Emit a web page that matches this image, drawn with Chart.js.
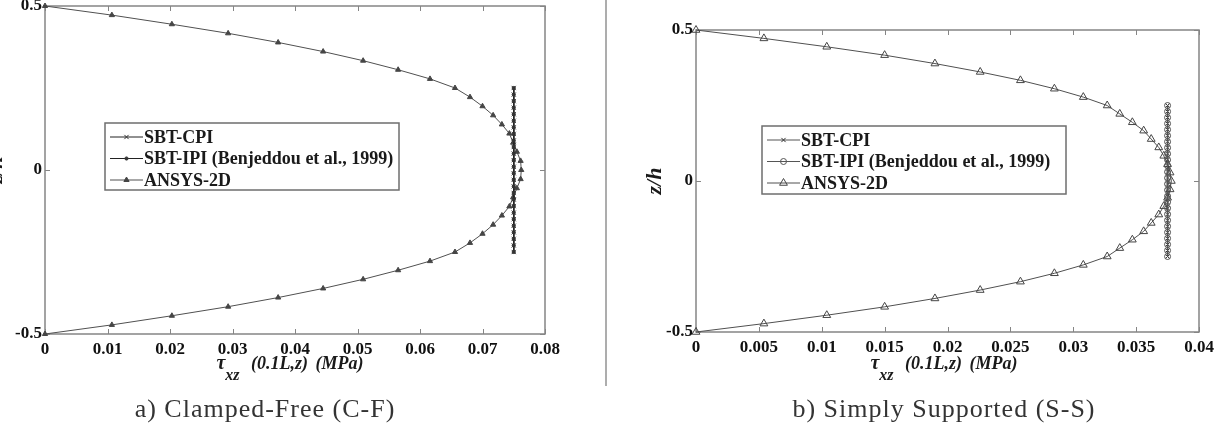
<!DOCTYPE html>
<html>
<head>
<meta charset="utf-8">
<script src="https://cdn.jsdelivr.net/npm/chart.js@4.4.1/dist/chart.umd.min.js"></script>
<style>
  body { margin: 0; width: 1218px; height: 426px; overflow: hidden; background: #fff; position: relative; font-family: "Liberation Serif", serif; }
  .wrap { position: absolute; top: 0; height: 390px; }
  #wrapA { left: -20px; width: 626px; }
  #wrapB { left: 606px; width: 612px; }
  .divider { position: absolute; left: 605px; top: 0; width: 2px; height: 386px; background: #adadad; }
  .xtitle { position: absolute; top: 351px; font-family: "Liberation Serif", serif; font-style: italic; font-weight: bold; font-size: 18px; word-spacing: 3px; transform: translateX(-50%); white-space: nowrap; color: #1a1a1a; }
  .xtitle .tau { font-size: 20px; }
  .xtitle sub { font-size: 16px; vertical-align: -11px; margin-right: 4px; }
  .caption { position: absolute; top: 394px; font-family: "Liberation Serif", serif; font-size: 26px; letter-spacing: 1px; transform: translateX(-50%); white-space: nowrap; color: #333; }
</style>
</head>
<body>
<div class="wrap" id="wrapA"><canvas id="chartA"></canvas></div>
<div class="divider"></div>
<div class="wrap" id="wrapB"><canvas id="chartB"></canvas></div>
<div class="xtitle" style="left:290px"><span class="tau">τ</span><sub>xz</sub> (0.1L,z) (MPa)</div>
<div class="xtitle" style="left:944px"><span class="tau">τ</span><sub>xz</sub> (0.1L,z) (MPa)</div>
<div class="caption" style="left:265px">a) Clamped-Free (C-F)</div>
<div class="caption" style="left:944px">b) Simply Supported (S-S)</div>

<script>
'use strict';

// DATA
// z/h positions of the ANSYS-2D points (through the whole thickness)
const zFull = [0.5, 0.4722, 0.4444, 0.4167, 0.3889, 0.3611, 0.3333, 0.3056, 0.2778, 0.25,
  0.2222, 0.1944, 0.1667, 0.1389, 0.1111, 0.0833, 0.0556, 0.0278, 0,
  -0.0278, -0.0556, -0.0833, -0.1111, -0.1389, -0.1667, -0.1944, -0.2222, -0.25,
  -0.2778, -0.3056, -0.3333, -0.3611, -0.3889, -0.4167, -0.4444, -0.4722, -0.5];

// z/h positions of the SBT points (core only)
const zCore = [0.25, 0.23, 0.21, 0.19, 0.17, 0.15, 0.13, 0.11, 0.09, 0.07, 0.05, 0.03, 0.01,
  -0.01, -0.03, -0.05, -0.07, -0.09, -0.11, -0.13, -0.15, -0.17, -0.19, -0.21, -0.23, -0.25];

// a) Clamped-Free
const ansysCF = [0, 0.0107, 0.0203, 0.0293, 0.0373, 0.0445, 0.0509, 0.0565, 0.0616, 0.0656,
  0.0680, 0.0700, 0.0717, 0.0731, 0.0743, 0.0749, 0.0755, 0.0761, 0.0762,
  0.0761, 0.0755, 0.0749, 0.0743, 0.0731, 0.0717, 0.0700, 0.0680, 0.0656,
  0.0616, 0.0565, 0.0509, 0.0445, 0.0373, 0.0293, 0.0203, 0.0107, 0];
const cpiCF = [0.075, 0.075, 0.075, 0.075, 0.075, 0.075, 0.075, 0.075, 0.075, 0.075, 0.075, 0.075, 0.075,
  0.075, 0.075, 0.075, 0.075, 0.075, 0.075, 0.075, 0.075, 0.075, 0.075, 0.075, 0.075, 0.075];
const ipiCF = [0.075, 0.075, 0.075, 0.075, 0.075, 0.075, 0.075, 0.075, 0.075, 0.075, 0.075, 0.075, 0.075,
  0.075, 0.075, 0.075, 0.075, 0.075, 0.075, 0.075, 0.075, 0.075, 0.075, 0.075, 0.075, 0.075];

// b) Simply Supported
const ansysSS = [0, 0.0054, 0.0104, 0.0150, 0.0190, 0.0226, 0.0258, 0.0285, 0.0308, 0.0327,
  0.0337, 0.0347, 0.0356, 0.0362, 0.0368, 0.0372, 0.0375, 0.0377, 0.0378,
  0.0377, 0.0375, 0.0372, 0.0368, 0.0362, 0.0356, 0.0347, 0.0337, 0.0327,
  0.0308, 0.0285, 0.0258, 0.0226, 0.0190, 0.0150, 0.0104, 0.0054, 0];
const cpiSS = [0.0375, 0.0375, 0.0375, 0.0375, 0.0375, 0.0375, 0.0375, 0.0375, 0.0375, 0.0375, 0.0375, 0.0375, 0.0375,
  0.0375, 0.0375, 0.0375, 0.0375, 0.0375, 0.0375, 0.0375, 0.0375, 0.0375, 0.0375, 0.0375, 0.0375, 0.0375];
const ipiSS = [0.0375, 0.0375, 0.0375, 0.0375, 0.0375, 0.0375, 0.0375, 0.0375, 0.0375, 0.0375, 0.0375, 0.0375, 0.0375,
  0.0375, 0.0375, 0.0375, 0.0375, 0.0375, 0.0375, 0.0375, 0.0375, 0.0375, 0.0375, 0.0375, 0.0375, 0.0375];

// tick labels
const xTicksCF = [0, 0.01, 0.02, 0.03, 0.04, 0.05, 0.06, 0.07, 0.08];
const xTicksSS = [0, 0.005, 0.01, 0.015, 0.02, 0.025, 0.03, 0.035, 0.04];
const zTicks = [-0.5, 0, 0.5];

const seriesNames = ['SBT-CPI', 'SBT-IPI (Benjeddou et al., 1999)', 'ANSYS-2D'];

// FUNCTIONS

function toPoints(xs, zs) {
  return xs.map((v, i) => ({ x: v, y: zs[i] }));
}

// box round the plot with the ticks pointing inwards (matlab style)
const frameTicks = {
  id: 'frameTicks',
  beforeDatasetsDraw(chart) {
    const { ctx, chartArea: a, scales } = chart;
    const len = 5;
    ctx.save();
    ctx.strokeStyle = '#858585';
    ctx.lineWidth = 1.5;
    ctx.strokeRect(a.left, a.top, a.right - a.left, a.bottom - a.top);
    ctx.lineWidth = 1;
    ctx.beginPath();
    scales.x.ticks.forEach(t => {
      const px = Math.round(scales.x.getPixelForValue(t.value)) + 0.5;
      ctx.moveTo(px, a.bottom); ctx.lineTo(px, a.bottom - len);
      ctx.moveTo(px, a.top); ctx.lineTo(px, a.top + len);
    });
    scales.y.ticks.forEach(t => {
      const py = Math.round(scales.y.getPixelForValue(t.value)) + 0.5;
      ctx.moveTo(a.left, py); ctx.lineTo(a.left + len, py);
      ctx.moveTo(a.right, py); ctx.lineTo(a.right - len, py);
    });
    ctx.stroke();
    ctx.restore();
  }
};

// legend in a box inside the plot
const boxLegend = {
  id: 'boxLegend',
  afterDraw(chart, args, opts) {
    const { ctx } = chart;
    ctx.save();
    ctx.fillStyle = '#fff';
    ctx.fillRect(opts.x, opts.y, opts.w, opts.h);
    ctx.strokeStyle = '#6e6e6e';
    ctx.lineWidth = 1.5;
    ctx.strokeRect(opts.x, opts.y, opts.w, opts.h);
    ctx.font = 'bold 18px "Liberation Serif"';
    ctx.textBaseline = 'middle';
    chart.data.datasets.forEach((ds, i) => {
      const cy = opts.y + 14 + i * 21.5;
      const x0 = opts.x + 5;
      const x1 = opts.x + 38;
      ctx.strokeStyle = ds.borderColor;
      ctx.lineWidth = 1;
      ctx.beginPath();
      ctx.moveTo(x0, cy); ctx.lineTo(x1, cy);
      ctx.stroke();
      ctx.fillStyle = ds.pointBackgroundColor;
      ctx.strokeStyle = ds.pointBorderColor;
      Chart.helpers.drawPoint(ctx, {
        pointStyle: ds.pointStyle, rotation: 0,
        radius: ds.pointRadius, borderWidth: 1
      }, (x0 + x1) / 2, cy);
      ctx.fillStyle = '#1a1a1a';
      ctx.fillText(ds.label, opts.x + 39, cy + 1);
    });
    ctx.restore();
  }
};

function makeChart(id, p) {
  const tickFont = { family: 'Liberation Serif', weight: 'bold', size: 17 };
  return new Chart(document.getElementById(id), {
    type: 'scatter',
    data: {
      datasets: [
        {
          label: seriesNames[0],
          data: toPoints(p.cpi, zCore),
          showLine: true, clip: false, order: 1,
          borderColor: p.coreLine, borderWidth: p.coreWidth,
          pointStyle: 'crossRot', pointRadius: 3,
          pointBorderColor: p.cpiColor, pointBackgroundColor: p.cpiColor, pointBorderWidth: 1
        },
        {
          label: seriesNames[1],
          data: toPoints(p.ipi, zCore),
          showLine: true, clip: false, order: 0,
          borderColor: p.coreLine, borderWidth: p.coreWidth,
          pointStyle: 'circle', pointRadius: p.ipiRadius,
          pointBorderColor: p.ipiBorder, pointBackgroundColor: p.ipiFill, pointBorderWidth: 1
        },
        {
          label: seriesNames[2],
          data: toPoints(p.ansys, zFull),
          showLine: true, clip: false, order: 2,
          borderColor: '#505050', borderWidth: 1,
          pointStyle: 'triangle', pointRadius: p.triRadius,
          pointBorderColor: '#454545', pointBackgroundColor: p.triFill, pointBorderWidth: 1
        }
      ]
    },
    options: {
      animation: false,
      responsive: true,
      maintainAspectRatio: false,
      layout: { padding: { top: p.padTop, right: p.padRight, left: 0, bottom: 0 } },
      scales: {
        x: {
          type: 'linear', min: p.xMin, max: p.xMax,
          grid: { display: false, drawTicks: false }, border: { display: false },
          afterBuildTicks: s => { s.ticks = p.xTicks.map(v => ({ value: v })); },
          afterFit: s => { s.height = p.xHeight; s.paddingLeft = 0; s.paddingRight = 0; },
          ticks: { autoSkip: false, maxRotation: 0, padding: 5, color: '#111', font: tickFont, callback: v => String(v) }
        },
        y: {
          type: 'linear', min: -0.5, max: 0.5,
          grid: { display: false, drawTicks: false }, border: { display: false },
          afterBuildTicks: s => { s.ticks = zTicks.map(v => ({ value: v })); },
          afterFit: s => { s.width = p.yWidth; s.paddingTop = 0; s.paddingBottom = 0; },
          ticks: { autoSkip: false, padding: 3, color: '#111', font: tickFont, callback: v => String(v) },
          title: {
            display: true, text: 'z/h', color: '#1a1a1a',
            font: { family: 'Liberation Serif', weight: 'bold', style: 'italic', size: 22 },
            padding: { top: p.titlePad, bottom: 0 }
          }
        }
      },
      plugins: {
        legend: { display: false },
        tooltip: { enabled: false },
        boxLegend: p.legend
      }
    },
    plugins: [frameTicks, boxLegend]
  });
}

// EXECUTABLE CODE

makeChart('chartA', {
  ansys: ansysCF, cpi: cpiCF, ipi: ipiCF,
  xMin: 0, xMax: 0.08, xTicks: xTicksCF,
  padTop: 6, padRight: 61, xHeight: 56, yWidth: 65, titlePad: 3,
  coreLine: '#222', coreWidth: 1.5,
  cpiColor: '#333', ipiRadius: 1.6, ipiBorder: '#333', ipiFill: '#333',
  triRadius: 3, triFill: '#454545',
  legend: { x: 125, y: 123, w: 294, h: 67 }
});

makeChart('chartB', {
  ansys: ansysSS, cpi: cpiSS, ipi: ipiSS,
  xMin: 0, xMax: 0.04, xTicks: xTicksSS,
  padTop: 30, padRight: 19, xHeight: 58, yWidth: 90, titlePad: 36,
  coreLine: '#555', coreWidth: 1,
  cpiColor: '#333', ipiRadius: 3, ipiBorder: '#555', ipiFill: 'rgba(255,255,255,0)',
  triRadius: 4.5, triFill: 'rgba(255,255,255,0)',
  legend: { x: 156, y: 126, w: 304, h: 68 }
});
</script>
</body>
</html>
